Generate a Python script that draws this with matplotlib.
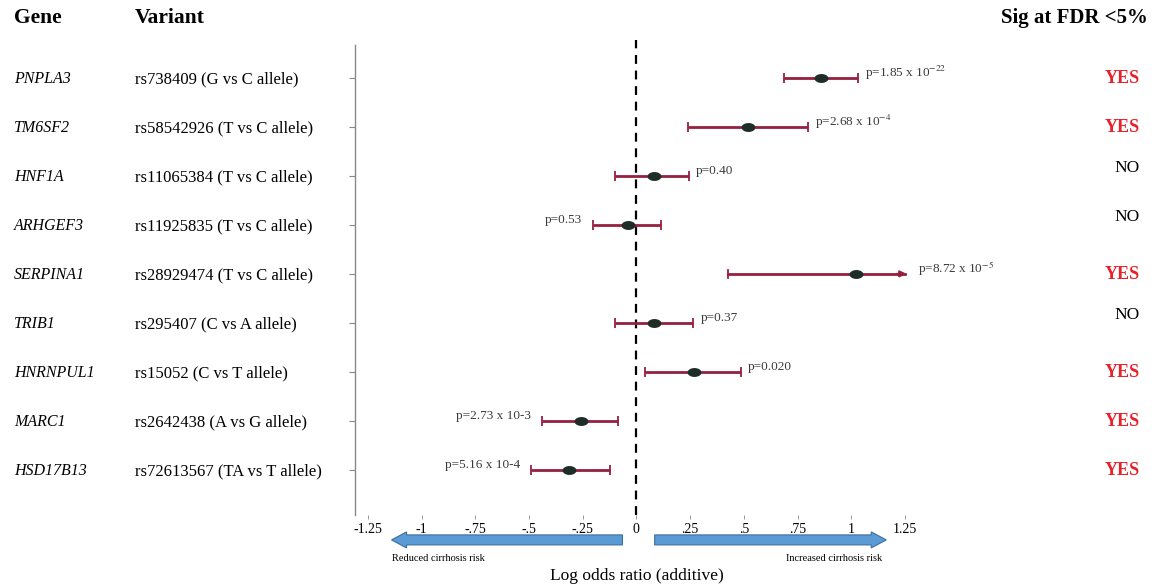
import numpy as np
import matplotlib.pyplot as plt
from matplotlib.patches import FancyArrow

plt.rcParams['font.family'] = ['Liberation Serif', 'DejaVu Serif']
plt.rcParams['mathtext.fontset'] = 'stix'

genes = ['PNPLA3', 'TM6SF2', 'HNF1A', 'ARHGEF3', 'SERPINA1', 'TRIB1',
         'HNRNPUL1', 'MARC1', 'HSD17B13']
variants = ['rs738409 (G vs C allele)', 'rs58542926 (T vs C allele)',
            'rs11065384 (T vs C allele)', 'rs11925835 (T vs C allele)',
            'rs28929474 (T vs C allele)', 'rs295407 (C vs A allele)',
            'rs15052 (C vs T allele)', 'rs2642438 (A vs G allele)',
            'rs72613567 (TA vs T allele)']
est = [0.86, 0.52, 0.08, -0.04, 1.02, 0.083, 0.27, -0.26, -0.315]
lo = [0.685, 0.24, -0.10, -0.20, 0.425, -0.10, 0.04, -0.44, -0.49]
hi = [1.03, 0.80, 0.245, 0.115, 1.25, 0.265, 0.485, -0.085, -0.125]
pvals = ['p=1.85 x 10$^{-22}$', 'p=2.68 x 10$^{-4}$', 'p=0.40', 'p=0.53',
         'p=8.72 x 10$^{-5}$', 'p=0.37', 'p=0.020', 'p=2.73 x 10-3',
         'p=5.16 x 10-4']
sig = ['YES', 'YES', 'NO', 'NO', 'YES', 'NO', 'YES', 'YES', 'YES']
truncated = [False, False, False, False, True, False, False, False, False]

xticks = [-1.25, -1, -0.75, -0.5, -0.25, 0, 0.25, 0.5, 0.75, 1, 1.25]
xticklabels = ['-1.25', '-1', '-.75', '-.5', '-.25', '0', '.25', '.5', '.75', '1', '1.25']

W, H = 1156, 585
fig = plt.figure(figsize=(W / 100, H / 100), dpi=100)
ax = fig.add_axes([355 / W, 1 - 515 / H, 565 / W, 470 / H])

n = len(genes)
ys = np.arange(1, n + 1)
line_c = '#952040'
dot_c = '#1f2d29'

# ellipse marker
t = np.linspace(0, 2 * np.pi, 40)
ell = np.column_stack([np.cos(t), 0.6 * np.sin(t)])

for i in range(n):
    y = ys[i]
    if truncated[i]:
        ax.plot([lo[i], hi[i]], [y, y], color=line_c, lw=2)
        ax.plot([lo[i], lo[i]], [y - 0.08, y + 0.08], color=line_c, lw=1.3)
        ax.annotate('', xy=(hi[i] + 0.02, y), xytext=(hi[i] - 0.05, y),
                    arrowprops=dict(arrowstyle='-|>', color=line_c, lw=1.5,
                                    mutation_scale=9))
    else:
        ax.errorbar(est[i], y, xerr=[[est[i] - lo[i]], [hi[i] - est[i]]],
                    fmt='none', ecolor=line_c, elinewidth=2, capsize=3.5,
                    capthick=1.3)
    ax.plot(est[i], y, marker=ell, ms=9, color=dot_c, zorder=5)
    if est[i] < 0:
        ax.annotate(pvals[i], (lo[i], y), xytext=(-8, 3.5), textcoords='offset points',
                    ha='right', va='center', fontsize=9.5, color='#3a3a3a')
    else:
        xr = hi[i] + (0.03 if truncated[i] else 0)
        ax.annotate(pvals[i], (xr, y), xytext=(5, 3.5), textcoords='offset points',
                    ha='left', va='center', fontsize=9.5, color='#3a3a3a')

ax.axvline(0, ymin=0, ymax=1.01, color='black', lw=1.6,
           ls=(0, (4, 3)), clip_on=False, zorder=1)

ax.set_xlim(-1.31, 1.32)
ax.set_ylim(9.92, 0.33)
ax.set_xticks(xticks)
ax.set_xticklabels(xticklabels, fontsize=10)
ax.set_yticks(ys)
ax.set_yticklabels([])
ax.tick_params(axis='x', length=3, width=0.6, pad=3, color='#888888')
ax.tick_params(axis='y', length=4, width=0.8, color='#888888')
for s in ['top', 'right', 'bottom']:
    ax.spines[s].set_visible(False)
ax.spines['left'].set_color('#888888')
ax.spines['left'].set_linewidth(1)

# risk arrows below the axis
tr = ax.get_xaxis_transform()
aw = 10 / 470
for x0, dx in [(-0.065, -1.075), (0.085, 1.078)]:
    ax.add_patch(FancyArrow(x0, -0.053, dx, 0, width=aw, head_width=aw * 1.6,
                            head_length=0.07, length_includes_head=True,
                            transform=tr, clip_on=False, facecolor='#5b9bd5',
                            edgecolor='#3d6f9e', lw=0.8))
ax.text(-0.92, -0.092, 'Reduced cirrhosis risk', transform=tr, ha='center',
        va='center', fontsize=7.5)
ax.text(0.92, -0.092, 'Increased cirrhosis risk', transform=tr, ha='center',
        va='center', fontsize=7.5)
ax.text(0, -0.13, 'Log odds ratio (additive)', transform=tr, ha='center',
        va='center', fontsize=12.5)

# left/right text columns
fig.text(14 / W, 1 - 18 / H, 'Gene', fontsize=15.5, fontweight='bold', va='center')
fig.text(135 / W, 1 - 18 / H, 'Variant', fontsize=15.5, fontweight='bold', va='center')
fig.text(1148 / W, 1 - 18 / H, 'Sig at FDR <5%', fontsize=15, fontweight='bold',
         va='center', ha='right')
for i in range(n):
    yb = 1 - (78 + 49 * i + 5) / H
    fig.text(14 / W, yb, genes[i], fontsize=11.5, style='italic', va='baseline')
    fig.text(135 / W, yb, variants[i], fontsize=12, va='baseline')
    if sig[i] == 'YES':
        fig.text(1122 / W, yb, 'YES', fontsize=13, fontweight='bold',
                 color='#e8202a', ha='center', va='baseline')
    else:
        fig.text(1127 / W, yb + 0.016, 'NO', fontsize=12.5, ha='center', va='baseline')

fig.savefig('out.png', dpi=100)
